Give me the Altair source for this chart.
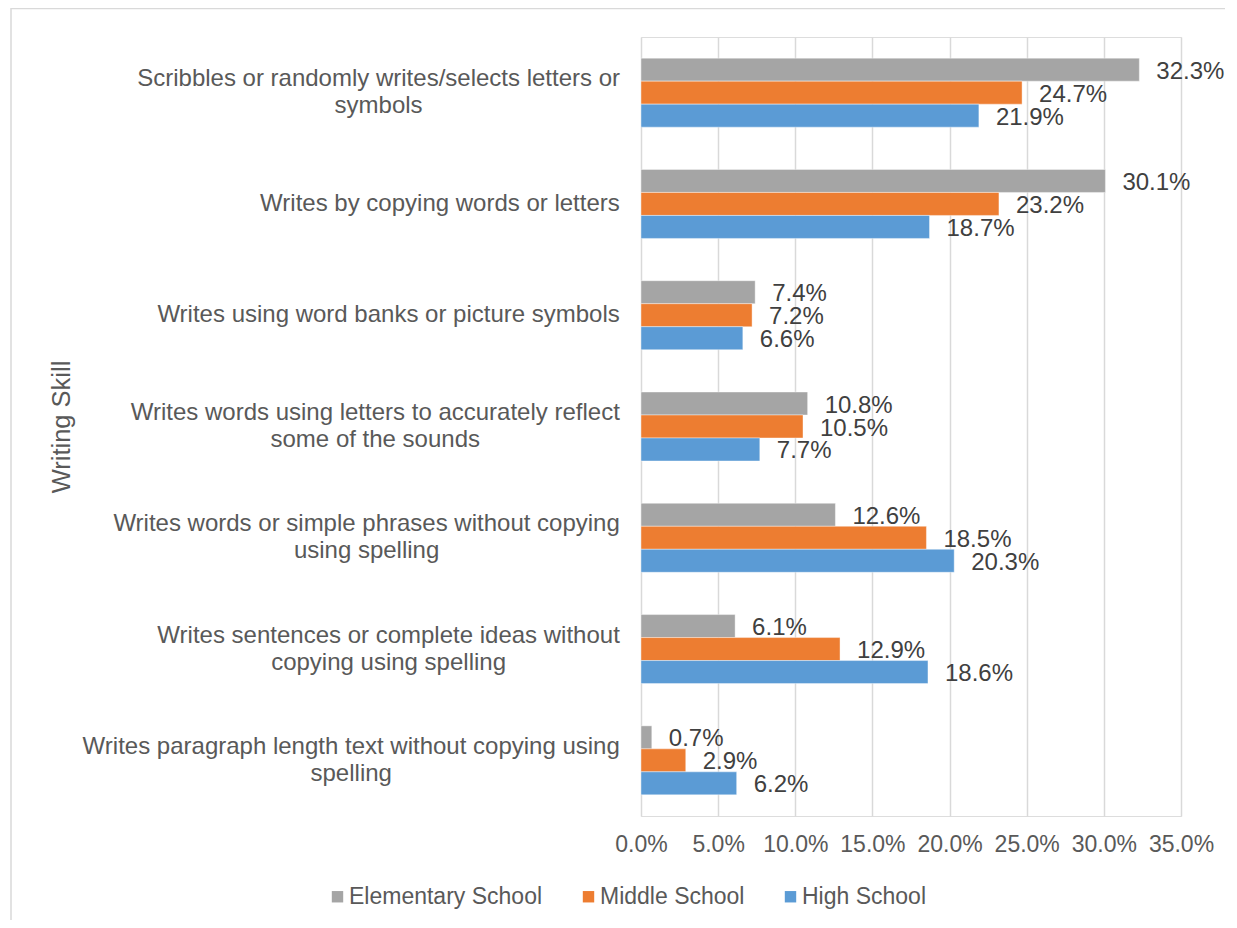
import altair as alt
import pandas as pd

# ---- data ----
categories = [
    "Scribbles or randomly writes/selects letters or symbols",
    "Writes by copying words or letters",
    "Writes using word banks or picture symbols",
    "Writes words using letters to accurately reflect some of the sounds",
    "Writes words or simple phrases without copying using spelling",
    "Writes sentences or complete ideas without copying using spelling",
    "Writes paragraph length text without copying using spelling",
]
label_lines = [
    ["Scribbles or randomly writes/selects letters or", "symbols"],
    ["Writes by copying words or letters"],
    ["Writes using word banks or picture symbols"],
    ["Writes words using letters to accurately reflect", "some of the sounds"],
    ["Writes words or simple phrases without copying", "using spelling"],
    ["Writes sentences or complete ideas without", "copying using spelling"],
    ["Writes paragraph length text without copying using", "spelling"],
]
series = ["Elementary School", "Middle School", "High School"]
elementary = [32.3, 30.1, 7.4, 10.8, 12.6, 6.1, 0.7]
middle = [24.7, 23.2, 7.2, 10.5, 18.5, 12.9, 2.9]
high = [21.9, 18.7, 6.6, 7.7, 20.3, 18.6, 6.2]
colors = ["#A5A5A5", "#ED7D31", "#5B9BD5"]
x_ticks = [0, 0.05, 0.10, 0.15, 0.20, 0.25, 0.30, 0.35]

FONT = "Liberation Sans"
CAT_FS = 24
LINE_H = 27

# Arial / Liberation Sans advance widths (per 1000 em) to centre wrapped labels
_w = dict(zip("abcdefghijklmnopqrstuvwxyz",
              [556, 556, 500, 556, 556, 278, 556, 556, 222, 222, 500, 222, 833,
               556, 556, 556, 556, 333, 500, 278, 556, 500, 722, 500, 500, 500]))
_w.update({" ": 278, "/": 278, "W": 944, "S": 667})


def text_width(s, fs):
    return sum(_w.get(ch, 556) for ch in s) * fs / 1000.0


rows = []
for i, c in enumerate(categories):
    for s, vals in zip(series, [elementary, middle, high]):
        rows.append({"skill": c, "school": s, "pct": vals[i] / 100.0})
df = pd.DataFrame(rows)

label_rows = []
for c, lines in zip(categories, label_lines):
    maxw = max(text_width(l, CAT_FS) for l in lines)
    label_rows.append({"skill": c, "lines": lines, "n": len(lines),
                       "lx": -21 - maxw / 2.0})

W, H = 540, 779

y_enc = alt.Y(
    "skill:N",
    sort=categories,
    scale=alt.Scale(paddingInner=0.38, paddingOuter=0.19),
    axis=alt.Axis(
        labels=False, ticks=False, domain=False, grid=False,
        title="Writing Skill", titleFont=FONT, titleFontSize=25.5,
        titleFontWeight="normal", titleColor="#595959",
        titleAngle=270, titleBaseline="middle", titleAlign="center",
        titleX=-580, titleY=H / 2,
    ),
)

x_enc = alt.X(
    "pct:Q",
    scale=alt.Scale(domain=[0, 0.35], nice=False),
    axis=alt.Axis(
        values=x_ticks, format=".1%", title=None,
        labelFont=FONT, labelFontSize=23, labelColor="#595959",
        labelPadding=17, labelOverlap=False, labelFlush=False,
        ticks=False, domain=False,
        grid=True, gridColor="#D9D9D9", gridWidth=1.5,
    ),
)

base = alt.Chart(df)

bars = base.mark_bar(stroke="white", strokeWidth=0.8, strokeOpacity=0.5).encode(
    x=x_enc,
    y=y_enc,
    yOffset=alt.YOffset("school:N", sort=series,
                        scale=alt.Scale(paddingInner=0, paddingOuter=0)),
    color=alt.Color(
        "school:N", sort=series,
        scale=alt.Scale(domain=series, range=colors),
        legend=alt.Legend(
            orient="none", legendX=-315, legendY=848, direction="horizontal",
            title=None, symbolType="square", symbolSize=130,
            symbolStrokeWidth=0, labelFont=FONT, labelFontSize=23,
            labelColor="#595959", columnPadding=34, labelOffset=0, padding=0,
            labelLimit=0,
        ),
    ),
)

values = base.mark_text(
    align="left", baseline="middle", dx=17, dy=2,
    font=FONT, fontSize=24, color="#404040",
).encode(
    x="pct:Q",
    y=alt.Y("skill:N", sort=categories),
    yOffset=alt.YOffset("school:N", sort=series),
    text=alt.Text("pct:Q", format=".1%"),
)

label_src = alt.Chart(alt.InlineData(values=label_rows))


def label_layer(n):
    return label_src.transform_filter(alt.datum.n == n).mark_text(
        align="center", baseline="middle", font=FONT, fontSize=CAT_FS,
        lineHeight=LINE_H, color="#595959", dy=-(n - 1) * LINE_H / 2.0,
    ).encode(
        x=alt.X("lx:Q", scale=None),
        y=alt.Y("skill:N", sort=categories),
        text=alt.Text("lines:N"),
    )


frame = alt.Chart(alt.InlineData(values=[{}])).mark_rect(
    fillOpacity=0, stroke="#D9D9D9", strokeWidth=1.5,
).encode(
    x=alt.value(-630), x2=alt.value(700),
    y=alt.value(-28.5), y2=alt.value(950),
)

chart = alt.layer(frame, bars, values, label_layer(1), label_layer(2)).properties(
    width=W, height=H,
    autosize=alt.AutoSizeParams(type="none"),
    padding={"left": 633, "top": 29, "right": 44, "bottom": 104},
).configure_view(stroke=None).configure(font=FONT)

chart.save("out.html", embed_options={"renderer": "svg", "actions": False})
